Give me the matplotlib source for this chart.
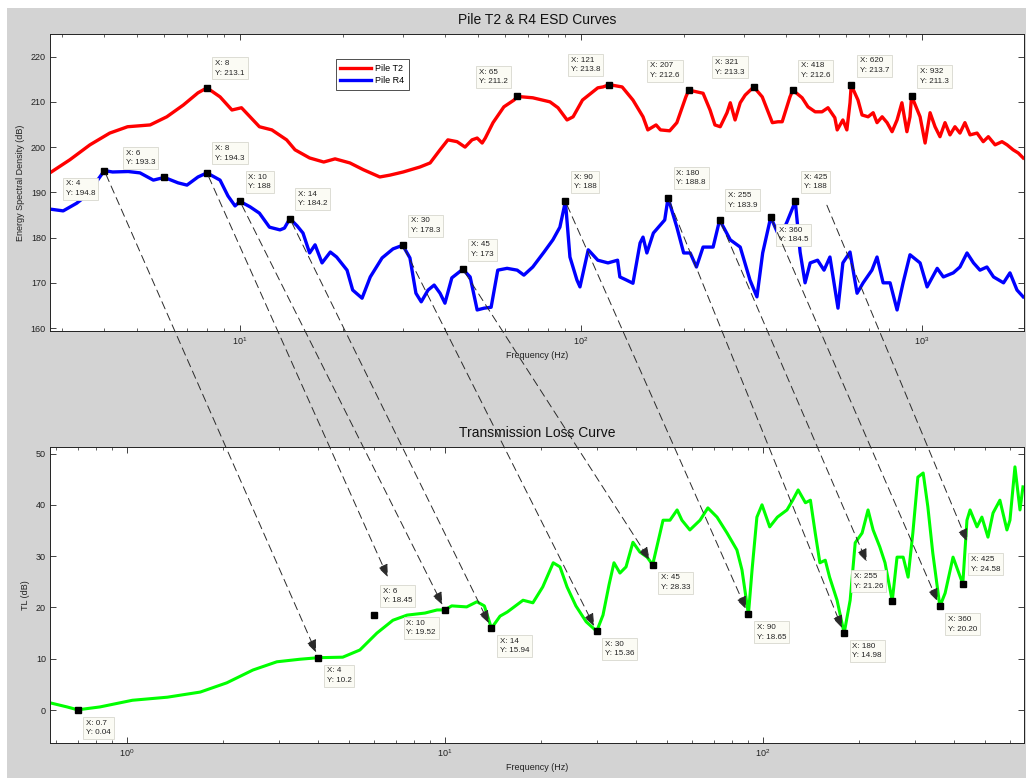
import matplotlib
matplotlib.use("Agg")
import matplotlib.pyplot as plt
import matplotlib.ticker as mticker
from matplotlib.patches import ConnectionPatch, Rectangle
from matplotlib.transforms import offset_copy

plt.rcParams['font.family'] = ['Liberation Sans', 'DejaVu Sans']

# ---- ESD curves: (frequency Hz, dB) ----
pile_t2 = [
    (2.77, 194.3), (3.17, 197.2), (3.63, 200.5), (4.15, 203.1), (4.68, 204.5), (5.45, 204.9),
    (6.10, 206.7), (6.82, 209.3), (7.53, 212.0), (8, 213.1), (8.74, 211.1), (9.47, 208.2),
    (10.1, 208.7), (10.7, 206.7), (11.4, 204.5), (12.4, 203.8), (13.7, 201.6), (14.5, 199.4),
    (16.0, 197.6), (17.6, 196.7), (19.0, 197.4), (21.0, 196.5), (23.0, 195.0), (25.7, 193.4),
    (27.5, 193.8), (30.1, 194.5), (33.7, 195.6), (36.1, 196.5), (38.6, 199.4), (40.7, 201.6),
    (43.3, 201.2), (45.7, 200.0), (47.9, 201.6), (49.6, 202.0), (51.3, 200.9), (52.4, 202.0),
    (55.2, 205.4), (59.4, 208.9), (63.6, 210.4), (65, 211.2), (72.2, 210.9), (81.1, 210.0),
    (85.6, 208.7), (91, 206.0), (94.8, 206.7), (101, 210.4), (112, 213.1), (116, 213.3),
    (121, 213.8), (132, 213.3), (142, 210.4), (152, 206.7), (157, 203.8), (166, 204.9),
    (171, 203.8), (182, 203.6), (191, 205.4), (203, 211.1), (207, 212.6), (228, 211.9),
    (239, 208.2), (247, 204.9), (256, 204.5), (268, 207.6), (274, 209.8), (283, 206.0),
    (293, 209.8), (303, 211.5), (321, 213.3), (340, 211.1), (352, 208.2), (364, 205.4),
    (378, 205.6), (389, 205.6), (410, 211.1), (418, 212.6), (445, 210.9), (463, 208.9),
    (486, 207.8), (509, 207.8), (530, 208.7), (555, 206.5), (564, 203.8), (586, 206.0),
    (602, 203.8), (615, 209.8), (620, 213.7), (649, 210.4), (667, 207.1), (695, 206.7),
    (719, 207.6), (738, 205.4), (764, 206.7), (790, 205.4), (817, 203.4), (845, 206.0),
    (873, 209.8), (903, 203.4), (922, 206.7), (932, 211.3), (987, 206.7), (1021, 200.9),
    (1056, 207.6), (1092, 204.5), (1129, 202.3), (1168, 205.4), (1208, 202.7), (1249, 204.5),
    (1292, 203.1), (1336, 205.4), (1383, 202.7), (1450, 203.1), (1512, 201.2), (1565, 202.3),
    (1638, 200.5), (1716, 201.2), (1776, 200.5), (1850, 199.4), (1915, 198.7), (1980, 197.6),
]

pile_r4 = [
    (2.77, 186.3), (3.03, 185.9), (3.32, 187.6), (3.56, 189.4), (4, 194.8), (4.23, 194.5),
    (4.70, 194.6), (5.09, 194.3), (5.57, 192.7), (6, 193.3), (6.58, 192.1), (6.99, 191.6),
    (7.53, 193.4), (8, 194.3), (8.74, 192.7), (9.22, 189.2), (9.67, 187.0), (10, 188),
    (10.7, 186.8), (11.4, 185.4), (12.2, 182.3), (13.1, 181.7), (13.5, 182.1), (14, 184.2),
    (14.7, 182.6), (15.3, 181.0), (16.0, 176.6), (16.6, 178.4), (17.4, 174.4), (18.4, 176.8),
    (19.2, 175.7), (20.6, 172.8), (21.4, 168.4), (22.8, 166.6), (24.1, 171.3), (26.1, 175.5),
    (28.1, 177.5), (30, 178.3), (31.5, 175.5), (32.8, 167.7), (34.0, 165.8), (35.6, 168.4),
    (37.1, 169.5), (38.6, 167.7), (39.9, 165.5), (41.8, 171.1), (45, 173), (47.3, 171.3),
    (49.6, 164.0), (52.0, 164.4), (54.5, 164.6), (57.0, 172.8), (60.7, 173.2), (65.0, 172.8),
    (68.0, 171.7), (72.2, 173.5), (77.9, 176.8), (82.7, 179.5), (86.7, 182.3), (90, 188),
    (92.8, 175.7), (97.3, 170.6), (99.3, 169.1), (105, 177.3), (112, 175.0), (120, 174.4),
    (128, 175.0), (130, 171.3), (136, 170.6), (142, 169.9), (149, 178.8), (152, 180.1),
    (156, 176.6), (163, 181.0), (176, 183.9), (180, 188.8), (191, 182.3), (200, 176.6),
    (209, 176.6), (218, 173.5), (228, 177.9), (244, 177.9), (255, 183.9), (274, 179.5),
    (293, 177.9), (313, 170.6), (328, 166.9), (341, 176.6), (360, 184.5), (383, 179.9),
    (402, 183.5), (425, 188), (439, 176.8), (454, 170.0), (470, 174.4), (494, 175.0),
    (516, 172.8), (537, 175.7), (567, 164.4), (586, 174.4), (615, 176.8), (645, 167.7),
    (672, 170.0), (713, 172.8), (738, 175.7), (769, 170.0), (806, 170.0), (845, 164.0),
    (880, 170.0), (922, 176.2), (987, 174.4), (1035, 169.1), (1108, 173.2), (1155, 171.3),
    (1235, 172.2), (1292, 173.5), (1355, 176.6), (1416, 174.4), (1479, 172.8), (1550, 173.5),
    (1621, 171.3), (1734, 170.0), (1811, 172.2), (1899, 168.4), (1980, 166.9),
]

# ---- transmission loss: (frequency Hz, TL dB) ----
tl_curve = [
    (0.573, 1.4), (0.648, 0.6), (0.7, 0.04), (0.822, 0.6), (1.04, 1.9), (1.34, 2.5),
    (1.70, 3.5), (2.06, 5.3), (2.49, 7.8), (2.96, 9.4), (3.50, 9.9), (4, 10.2),
    (4.77, 10.3), (5.40, 11.7), (6.11, 15.0), (6.86, 17.5), (7.60, 18.5), (8.65, 18.9),
    (9.44, 19.5), (10, 19.52), (10.5, 20.3), (11.7, 20.1), (12.6, 21.1), (13.3, 20.3),
    (14, 15.94), (14.9, 18.3), (15.7, 19.1), (17.6, 21.4), (18.9, 20.9), (20.3, 24.0),
    (21.9, 28.7), (23.0, 27.9), (24.2, 24.0), (25.8, 20.3), (27.8, 17.2), (30, 15.36),
    (31.4, 18.5), (32.8, 24.4), (34.0, 28.7), (35.5, 26.7), (37.1, 27.9), (39.0, 32.7),
    (41.0, 30.8), (43.2, 29.8), (45, 28.33), (48.5, 37.0), (51.0, 37.0), (53.7, 39.0),
    (55.6, 37.0), (58.9, 35.1), (63.4, 37.0), (67.1, 39.4), (71.7, 37.6), (77.1, 34.5),
    (82.8, 31.2), (85.9, 27.3), (90, 18.65), (92.4, 27.3), (95.7, 37.6), (99.3, 40.0),
    (105, 35.7), (111, 37.6), (119, 39.0), (124, 40.9), (129, 42.9), (136, 40.4),
    (141, 40.9), (146, 34.5), (151, 28.7), (157, 29.2), (162, 25.9), (171, 21.4),
    (180, 14.98), (188, 21.4), (195, 32.6), (205, 34.5), (214, 39.0), (222, 35.1),
    (233, 31.8), (242, 28.7), (255, 21.26), (264, 29.8), (276, 29.8), (286, 25.9),
    (296, 34.5), (307, 45.4), (319, 46.2), (330, 39.6), (342, 30.6), (360, 20.20),
    (374, 22.8), (396, 29.8), (425, 24.58), (438, 37.0), (448, 39.0), (471, 35.7),
    (488, 37.6), (510, 33.7), (529, 38.4), (556, 40.9), (585, 35.1), (598, 37.0),
    (620, 47.4), (643, 39.0), (657, 43.5),
]

# ---- data tips (X, Y as displayed) ----
tips_t2 = [("8", "213.1"), ("65", "211.2"), ("121", "213.8"), ("207", "212.6"),
           ("321", "213.3"), ("418", "212.6"), ("620", "213.7"), ("932", "211.3")]
tips_r4 = [("4", "194.8"), ("6", "193.3"), ("8", "194.3"), ("10", "188"), ("14", "184.2"),
           ("30", "178.3"), ("45", "173"), ("90", "188"), ("180", "188.8"), ("255", "183.9"),
           ("360", "184.5"), ("425", "188")]
tips_tl = [("0.7", "0.04"), ("4", "10.2"), ("6", "18.45"), ("10", "19.52"), ("14", "15.94"),
           ("30", "15.36"), ("45", "28.33"), ("90", "18.65"), ("180", "14.98"), ("255", "21.26"),
           ("360", "20.20"), ("425", "24.58")]

# R4 data tip X  ->  TL data tip X
links = [("4", "4"), ("8", "6"), ("10", "10"), ("14", "14"), ("30", "30"), ("45", "45"),
         ("90", "90"), ("180", "180"), ("255", "255"), ("360", "360"), ("425", "425")]

# ---- layout / placement ----
side_t2 = {"65": "ul", "121": "ul", "207": "ul", "321": "ul"}
side_r4 = {"4": "ll", "6": "ul", "360": "lr"}
side_tl = {"6": "ur", "10": "ll", "255": "ul", "425": "ur"}
start_shift = {"425": (30, 0)}
end_shift = {"6": (14, 37), "255": (-25, 38), "425": (5, 41)}

W, H, DPI = 1026, 778, 100
fig = plt.figure(figsize=(W / DPI, H / DPI), dpi=DPI, facecolor="white")
fig.add_artist(Rectangle((7 / W, 0), 1 - 7 / W, 1 - 8 / H, transform=fig.transFigure,
                         facecolor="#d3d3d3", edgecolor="none", zorder=-10))

ax1 = fig.add_axes([50 / W, 1 - 331 / H, 974 / W, 297 / H])
ax2 = fig.add_axes([50 / W, 1 - 743 / H, 974 / W, 296 / H])


def style(ax, xlim, ylim, yticks):
    ax.set_facecolor("white")
    ax.set_xscale("log")
    ax.set_xlim(*xlim)
    ax.set_ylim(*ylim)
    ax.set_yticks(yticks)
    ax.xaxis.set_major_locator(mticker.LogLocator(base=10, numticks=10))
    ax.xaxis.set_minor_locator(mticker.LogLocator(base=10, subs=range(2, 10), numticks=30))
    ax.xaxis.set_minor_formatter(mticker.NullFormatter())
    ax.yaxis.set_minor_locator(mticker.NullLocator())
    ax.tick_params(which="both", direction="in", top=True, right=True,
                   labelsize=6.5, colors="#222222", pad=3)
    ax.tick_params(which="major", length=4, width=0.6)
    ax.tick_params(which="minor", length=2.5, width=0.5)
    for s in ax.spines.values():
        s.set_linewidth(0.7)
        s.set_color("#222222")


style(ax1, (2.772, 1991), (159.35, 225.0), range(160, 221, 10))
style(ax2, (0.5727, 662), (-6.43, 51.27), range(0, 51, 10))

ax1.plot([p[0] for p in pile_t2], [p[1] for p in pile_t2], color="#ff0000", lw=2.4,
         label="Pile T2", solid_joinstyle="round")
ax1.plot([p[0] for p in pile_r4], [p[1] for p in pile_r4], color="#0000ff", lw=2.4,
         label="Pile R4", solid_joinstyle="round")
ax2.plot([p[0] for p in tl_curve], [p[1] for p in tl_curve], color="#00ff00", lw=2.2,
         solid_joinstyle="round")

leg = ax1.legend(loc="upper left", bbox_to_anchor=(0.2885, 0.93), fontsize=6.5,
                 frameon=True, fancybox=False, edgecolor="#333333", framealpha=1,
                 handlelength=3.4, borderpad=0.5, labelspacing=0.4, handletextpad=0.5)
leg.get_frame().set_linewidth(0.6)

ax1.set_title("Pile T2 & R4 ESD Curves", fontsize=10, pad=7, color="#111111")
ax2.set_title("Transmission Loss Curve", fontsize=10, pad=7, color="#111111")
ax1.set_ylabel("Energy Spectral Density (dB)", fontsize=6.5, labelpad=4, color="#222222")
ax2.set_ylabel("TL (dB)", fontsize=6.5, labelpad=4, color="#222222")
ax1.set_xlabel("Frequency (Hz)", fontsize=6.5, labelpad=3, color="#222222")
ax2.set_xlabel("Frequency (Hz)", fontsize=6.5, labelpad=3, color="#222222")


def draw_tips(ax, tips, sides, default):
    for xs, ys in tips:
        x, y = float(xs), float(ys)
        ax.plot([x], [y], "s", color="black", ms=5, zorder=6, clip_on=False)
        side = sides.get(xs, default)
        dx = 6 if side[1] == "r" else -6.5
        dy = 20 if side[0] == "u" else -7
        ax.annotate(f"X: {xs}\nY: {ys}", (x, y), xytext=(dx, dy), textcoords="offset points",
                    ha="left" if side[1] == "r" else "right", va="top",
                    multialignment="left",
                    fontsize=5.8, linespacing=1.5, color="#222222",
                    bbox=dict(boxstyle="square,pad=0.35", fc="#fbfbf4", ec="#d8d8ce", lw=0.6),
                    zorder=7, annotation_clip=False)


draw_tips(ax1, tips_t2, side_t2, "ur")
draw_tips(ax1, tips_r4, side_r4, "ur")
draw_tips(ax2, tips_tl, side_tl, "lr")

r4_lookup = dict(tips_r4)
tl_lookup = dict(tips_tl)
for xa, xb in links:
    sdx, sdy = start_shift.get(xa, (0, 0))
    edx, edy = end_shift.get(xb, (0, 0))
    tA = offset_copy(ax1.transData, fig=fig, x=sdx, y=sdy, units="dots")
    tB = offset_copy(ax2.transData, fig=fig, x=edx, y=edy, units="dots")
    con = ConnectionPatch(xyA=(float(xa), float(r4_lookup[xa])), coordsA=tA,
                          xyB=(float(xb), float(tl_lookup[xb])), coordsB=tB,
                          arrowstyle="-|>,head_length=0.55,head_width=0.22",
                          mutation_scale=14, linestyle=(0, (8, 5)), lw=0.7,
                          color="#2a2a2a", shrinkA=3,
                          shrinkB=1 if xb in end_shift else 4, zorder=8)
    fig.add_artist(con)

fig.savefig("out.png", dpi=DPI, facecolor=fig.get_facecolor())
